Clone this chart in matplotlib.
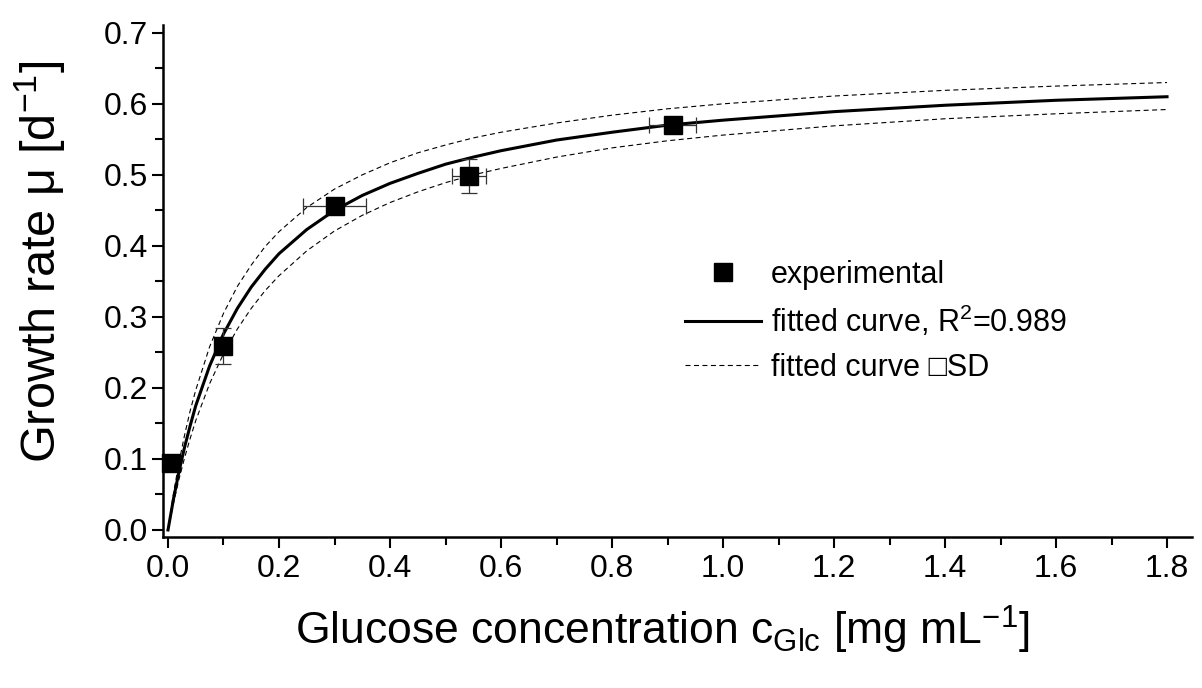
import numpy as np
import matplotlib.pyplot as plt
from matplotlib import font_manager
from matplotlib.ticker import MultipleLocator

# pick a narrow Arial-like face if there is one
names = {f.name for f in font_manager.fontManager.ttflist}
face = 'Liberation Sans Narrow' if 'Liberation Sans Narrow' in names else 'Liberation Sans'
plt.rcParams['font.family'] = [face, 'DejaVu Sans']
plt.rcParams['mathtext.fontset'] = 'custom'
plt.rcParams['mathtext.rm'] = face
plt.rcParams['mathtext.it'] = face
plt.rcParams['lines.scale_dashes'] = False

# experimental points
glc = [0.005, 0.1, 0.3, 0.542, 0.909]
mu = [0.094, 0.259, 0.456, 0.498, 0.570]
glc_err = [0.0, 0.005, 0.056, 0.031, 0.043]
mu_err = [0.005, 0.025, 0.008, 0.024, 0.008]

# curves
cx = [0, 0.01, 0.02, 0.03, 0.04, 0.05, 0.075, 0.1, 0.125, 0.15, 0.175, 0.2, 0.25,
      0.3, 0.35, 0.4, 0.45, 0.5, 0.55, 0.6, 0.7, 0.8, 0.9, 1.0, 1.2, 1.4, 1.6, 1.8]
fit = [0, 0.044, 0.083, 0.117, 0.147, 0.175, 0.231, 0.276, 0.312, 0.342, 0.367,
       0.389, 0.423, 0.450, 0.471, 0.488, 0.502, 0.515, 0.525, 0.534, 0.549, 0.560,
       0.570, 0.577, 0.589, 0.598, 0.605, 0.610]
fit_hi = [0, 0.052, 0.096, 0.134, 0.168, 0.197, 0.258, 0.305, 0.343, 0.373, 0.399,
          0.420, 0.454, 0.480, 0.500, 0.517, 0.531, 0.542, 0.552, 0.560, 0.573, 0.584,
          0.593, 0.600, 0.611, 0.619, 0.625, 0.630]
fit_lo = [0, 0.038, 0.072, 0.102, 0.129, 0.154, 0.206, 0.248, 0.283, 0.312, 0.337,
          0.358, 0.393, 0.421, 0.443, 0.461, 0.476, 0.489, 0.500, 0.509, 0.525, 0.538,
          0.548, 0.556, 0.569, 0.579, 0.586, 0.592]

W, H = 1202, 688
fig = plt.figure(figsize=(W / 100, H / 100), dpi=100)
ax = fig.add_axes([163 / W, (H - 537) / H, 1029 / W, 512 / H])

ax.plot(cx, fit_hi, color='black', lw=0.8, dashes=(3.6, 2.5), label='fitted curve \u25a1SD', zorder=2)
ax.plot(cx, fit_lo, color='black', lw=0.8, dashes=(3.6, 2.5), zorder=2)
ax.plot(cx, fit, color='black', lw=2.2, label='fitted curve, R$^{2}$=0.989', zorder=3)
ax.errorbar(glc, mu, xerr=glc_err, yerr=mu_err, fmt='none', ecolor='#333333',
            elinewidth=0.9, capsize=6, capthick=0.9, zorder=4, clip_on=False)
ax.plot(glc, mu, 's', color='black', ms=12.5, ls='none', label='experimental',
        zorder=5, clip_on=False)

ax.set_xlim(-0.009, 1.845)
ax.set_ylim(-0.0099, 0.711)
ax.xaxis.set_major_locator(MultipleLocator(0.2))
ax.xaxis.set_minor_locator(MultipleLocator(0.1))
ax.yaxis.set_major_locator(MultipleLocator(0.1))
ax.yaxis.set_minor_locator(MultipleLocator(0.05))
ax.xaxis.set_major_formatter(lambda v, p: '%.1f' % v)
ax.yaxis.set_major_formatter(lambda v, p: '%.1f' % v)

for s in ['top', 'right']:
    ax.spines[s].set_visible(False)
for s in ['left', 'bottom']:
    ax.spines[s].set_linewidth(1.8)
ax.tick_params(which='major', direction='out', length=8, width=1.5, labelsize=23)
ax.tick_params(which='minor', direction='out', length=5.5, width=1.5)
ax.tick_params(axis='x', which='major', pad=4)
ax.tick_params(axis='y', which='major', pad=3)

fig.text(40 / W, 1 - 262 / H, 'Growth rate \u03bc [d$^{-1}$]', rotation=90,
         ha='center', va='center', fontsize=35)
fig.text(662 / W, 1 - 645 / H, 'Glucose concentration c$_{\\mathrm{Glc}}$ [mg mL$^{-1}$]',
         ha='center', va='baseline', fontsize=32)

h, l = ax.get_legend_handles_labels()
order = [2, 1, 0]
ax.legend([h[i] for i in order], [l[i] for i in order], frameon=False, fontsize=22,
          loc='upper left', bbox_to_anchor=(685 / W, 1 - 260 / H),
          bbox_transform=fig.transFigure, borderpad=0, borderaxespad=0,
          handlelength=2.5, handletextpad=0.3, labelspacing=0.45)

fig.savefig('out.png', dpi=100)
